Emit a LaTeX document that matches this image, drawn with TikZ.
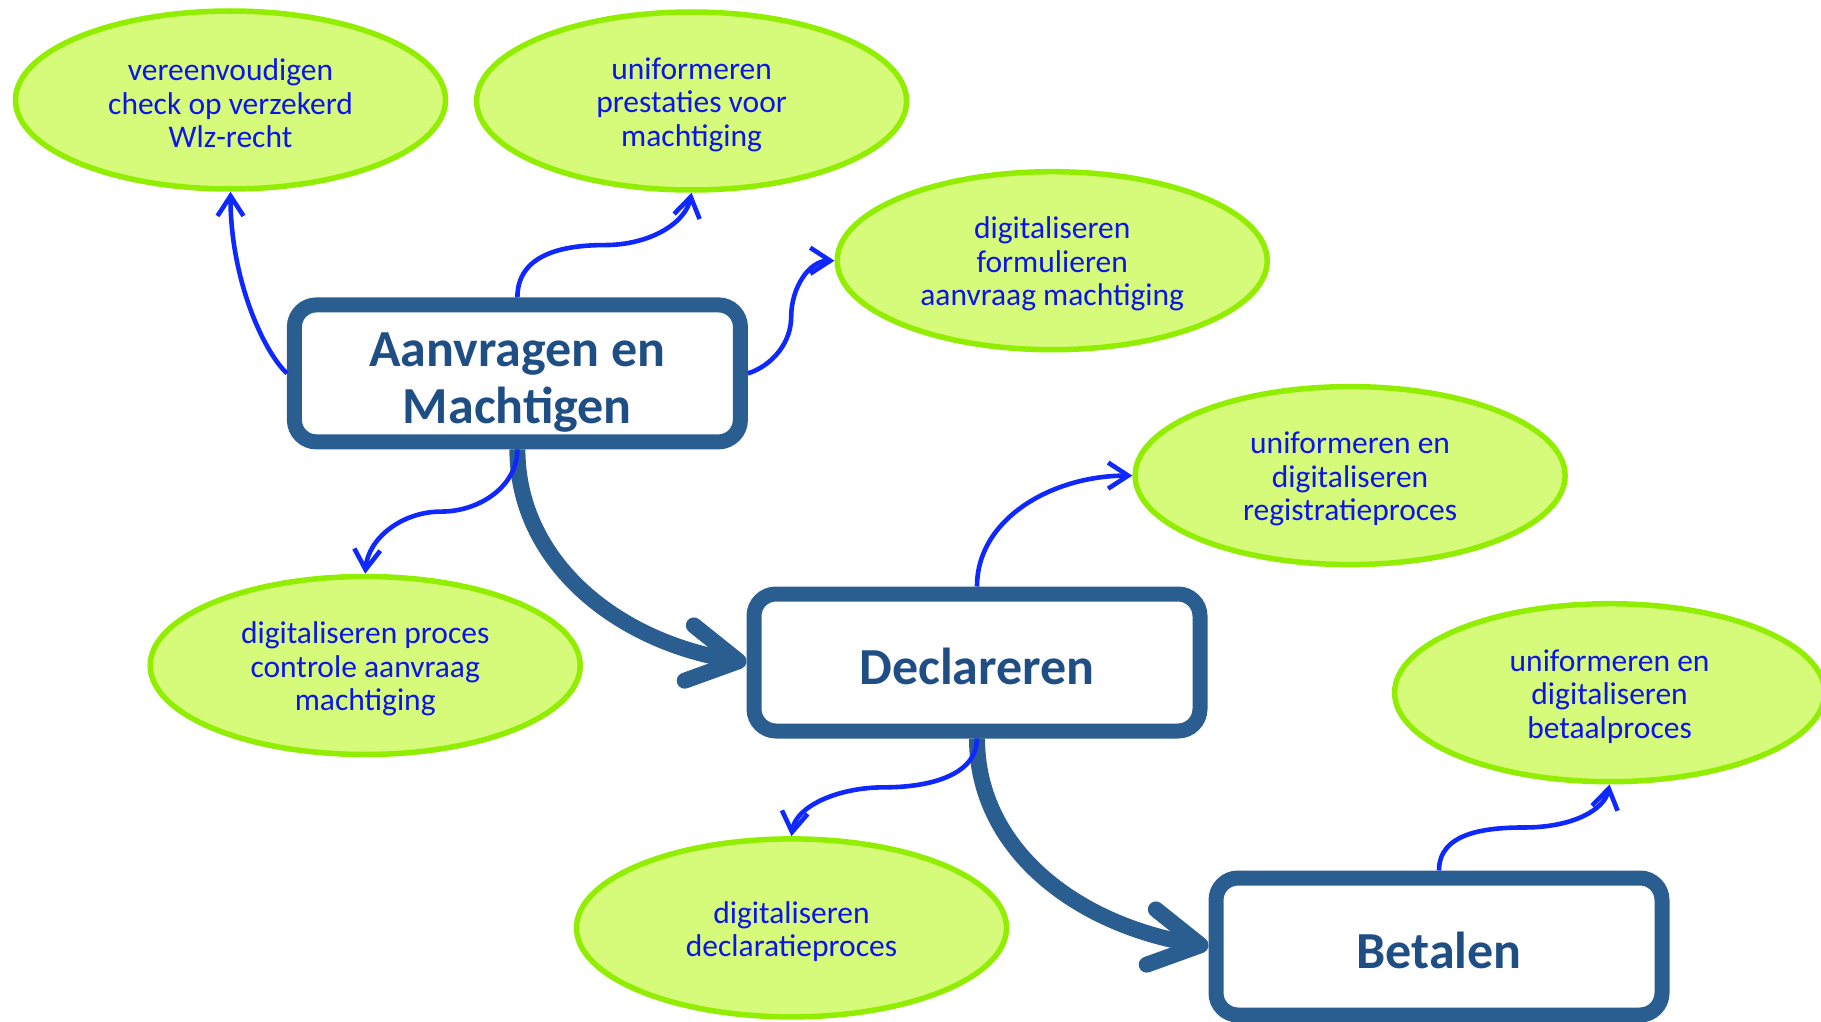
\documentclass[tikz,border=0pt]{standalone}
\usepackage{fontspec}
\setmainfont{Carlito}
\usetikzlibrary{arrows.meta,shapes.geometric,calc}
\definecolor{ellfill}{RGB}{214,250,122}
\definecolor{ellline}{RGB}{145,238,0}
\definecolor{elltext}{RGB}{10,20,235}
\definecolor{boxline}{RGB}{42,94,145}
\definecolor{boxtext}{RGB}{31,78,133}
\definecolor{connc}{RGB}{15,40,255}
\begin{document}
\begin{tikzpicture}[x=1pt,y=-1pt,
 idea/.style={ellipse, draw=ellline, line width=5.5pt, fill=ellfill, minimum width=430pt, minimum height=178pt, inner sep=0pt},
 ideatext/.style={align=center, text=elltext, inner sep=0pt, font=\fontsize{31.5}{33.5}\selectfont},
 stage/.style={rectangle, rounded corners=22pt, draw=boxline, line width=15pt, fill=white, minimum width=446pt, minimum height=137pt},
 stagetext/.style={align=center, text=boxtext, inner sep=0pt, font=\fontsize{52}{57}\selectfont\bfseries},
 conn/.style={draw=connc, line width=4.6pt, -{Straight Barb[length=20pt,width=26pt]}},
 flow/.style={draw=boxline, line width=16pt, -{Straight Barb[length=50pt,width=56pt,round]}}]
\useasboundingbox (0,0) rectangle (1821,1022);

\node[idea] (A) at (230.5,100) {};
\node[idea] (B) at (691.6,101) {};
\node[idea] (C) at (1052.2,260.7) {};
\node[idea] (D) at (1350.1,475.6) {};
\node[idea] (E) at (365.2,665.5) {};
\node[idea] (F) at (1609.6,692.7) {};
\node[idea] (G) at (791.5,927.9) {};
\node[ideatext] (At) at ($(A.center)+(0,3.5)$) {vereenvoudigen\\check op verzekerd\\Wlz-recht};
\node[ideatext] (Bt) at ($(B.center)+(0,3.5)$) {uniformeren\\prestaties voor\\machtiging};
\node[ideatext] (Ct) at ($(C.center)+(0,3.5)$) {digitaliseren\\formulieren\\aanvraag machtiging};
\node[ideatext] (Dt) at ($(D.center)+(0,3.5)$) {uniformeren en\\digitaliseren\\registratieproces};
\node[ideatext] (Et) at ($(E.center)+(0,3.5)$) {digitaliseren proces\\controle aanvraag\\machtiging};
\node[ideatext] (Ft) at ($(F.center)+(0,3.5)$) {uniformeren en\\digitaliseren\\betaalproces};
\node[ideatext] (Gt) at ($(G.center)+(0,3.5)$) {digitaliseren\\declaratieproces};

\node[stage] (aan) at (517.4,373.4) {};
\node[stage] (decl) at (977,662.5) {};
\node[stage] (bet) at (1439,946.5) {};
\node[stagetext] (aant) at ($(aan.center)+(0,9)$) {Aanvragen en\\Machtigen};
\node[stagetext] (declt) at ($(decl.center)+(0,4)$) {Declareren};
\node[stagetext] (bett) at ($(bet.center)+(0,4)$) {Betalen};

\draw[flow] (aan.south) .. controls +(0,110) and +(-133,-22) .. (decl.west);
\draw[flow] (decl.south) .. controls +(0,110) and +(-133,-22) .. (bet.west);

\draw[conn] (aan.west) .. controls +(-25,-24) and +(0,85) .. (A.south);
\draw[conn] (aan.north) .. controls +(0,-42) and +(-44,0) .. ($(aan.north)!0.5!(B.south)$) .. controls +(46,0) and +(-6,30) .. (B.south);
\draw[conn] (aan.east) .. controls +(25,-8) and +(0,25) .. ($(aan.east)!0.5!(C.west)$) .. controls +(0,-30) and +(-25,0) .. (C.west);
\draw[conn] (aan.south) .. controls +(0,37) and +(38,0) .. ($(aan.south)!0.5!(E.north)$) .. controls +(-40,0) and +(3,-35) .. (E.north);
\draw[conn] (decl.north) .. controls +(0,-68) and +(-80,0) .. (D.west);
\draw[conn] (decl.south) .. controls +(0,36) and +(47,0) .. ($(decl.south)!0.5!(G.north)$) .. controls +(-48,0) and +(4,-29) .. (G.north);
\draw[conn] (bet.north) .. controls +(0,-37) and +(-41,0) .. ($(bet.north)!0.5!(F.south)$) .. controls +(49,0) and +(-5,25) .. (F.south);
\end{tikzpicture}
\end{document}
